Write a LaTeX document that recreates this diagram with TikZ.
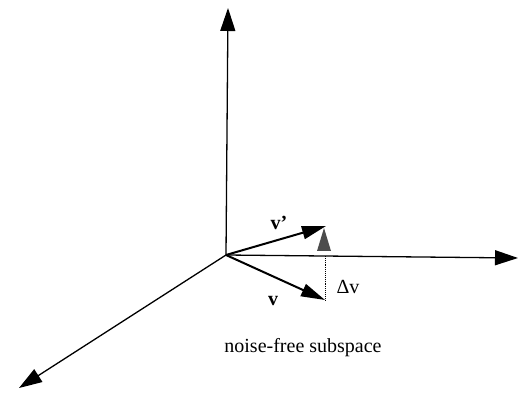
\documentclass[tikz,border=0pt]{standalone}
\usepackage{fontspec}
\setmainfont{Liberation Serif}
\usetikzlibrary{arrows.meta}
\begin{document}
\begin{tikzpicture}[x=1pt,y=-1pt,
  axis/.style={line width=1.3pt,-{Triangle[length=23pt,width=15pt]}},
  vec/.style={line width=2pt,-{Triangle[length=24pt,width=13pt]}},
  lbl/.style={inner sep=0pt,font=\fontsize{20}{22}\selectfont}]
\useasboundingbox (0,0) rectangle (523,398);
\coordinate (O) at (226,255);
\coordinate (Z) at (228,8);
\coordinate (X) at (518,258);
\coordinate (Y) at (19,388);
\coordinate (VP) at (326,226);
\coordinate (V) at (325,300);
\coordinate (A) at (325,256);
\draw[axis] (O) -- (Z);
\draw[axis] (O) -- (X);
\draw[axis] (O) -- (Y);
\draw[vec] (O) -- (VP);
\draw[vec] (O) -- (V);
\draw[densely dotted,line width=0.9pt] (A) -- (V);
\fill[black!70] (324,228) -- (331,251) -- (317,251) -- cycle;
\node[lbl,font=\fontsize{20}{22}\selectfont\bfseries] (lvp) at (279,223) {v'};
\node[lbl,font=\fontsize{20}{22}\selectfont\bfseries] (lv) at (273,301) {v};
\node[lbl] (ldv) at (348,287) {Δv};
\node[lbl] (cap) at (303,348) {noise-free subspace};
\end{tikzpicture}
\end{document}
